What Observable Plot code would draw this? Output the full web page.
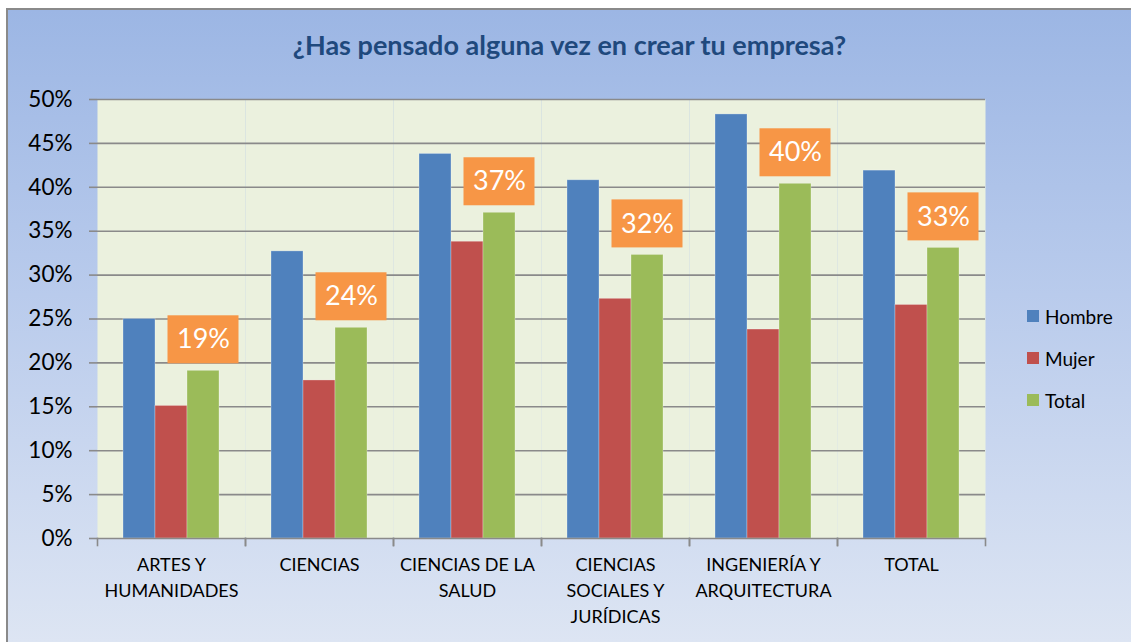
<!DOCTYPE html>
<html>
<head>
<meta charset="utf-8">
<script src="https://cdn.jsdelivr.net/npm/d3@7"></script>
<script src="https://cdn.jsdelivr.net/npm/@observablehq/plot@0.6"></script>
<style>
  html, body { margin: 0; padding: 0; background: #fff; }
  body { width: 1131px; height: 642px; position: relative; overflow: hidden; font-family: Lato, "Open Sans", sans-serif; }
  #chart {
    position: absolute; left: 6px; top: 8px; width: 1125px; height: 634px;
    box-sizing: border-box;
    border-left: 2px solid #8a8a8a; border-top: 2px solid #8a8a8a;
    background: linear-gradient(to bottom, #9cb6e4 0%, #b9cbec 45%, #dde5f3 100%);
  }
  #title {
    height: 60px; box-sizing: border-box; padding-top: 8px; line-height: 54px;
    text-align: center; font-weight: bold; font-size: 27px; color: #1f497d;
  }
  #legend { position: absolute; left: 1019px; top: 285px; font-size: 19px; color: #000; }
  #legend .item { display: flex; align-items: center; height: 42px; }
  #legend .sw { width: 12px; height: 12px; margin-right: 6px; }
</style>
</head>
<body>
<div id="chart">
  <div id="title">¿Has pensado alguna vez en crear tu empresa?</div>
  <div id="plot"></div>
  <div id="legend"></div>
</div>
<script>
const categories = ["ARTES Y HUMANIDADES", "CIENCIAS", "CIENCIAS DE LA SALUD", "CIENCIAS SOCIALES Y JURÍDICAS", "INGENIERÍA Y ARQUITECTURA", "TOTAL"];
const categoryLabels = ["ARTES Y\nHUMANIDADES", "CIENCIAS", "CIENCIAS DE LA\nSALUD", "CIENCIAS\nSOCIALES Y\nJURÍDICAS", "INGENIERÍA Y\nARQUITECTURA", "TOTAL"];
const series = ["Hombre", "Mujer", "Total"];
const seriesColors = ["#4f81bd", "#c0504d", "#9bbb59"];
const hombre = [0.250, 0.327, 0.438, 0.408, 0.483, 0.419];
const mujer  = [0.151, 0.180, 0.338, 0.273, 0.238, 0.266];
const total  = [0.191, 0.240, 0.371, 0.323, 0.404, 0.331];
const yTicks = [0, 0.05, 0.10, 0.15, 0.20, 0.25, 0.30, 0.35, 0.40, 0.45, 0.50];

const data = [];
categories.forEach((c, i) => {
  data.push({cat: c, s: "Hombre", v: hombre[i]});
  data.push({cat: c, s: "Mujer", v: mujer[i]});
  data.push({cat: c, s: "Total", v: total[i]});
});
const totals = data.filter(d => d.s === "Total");
const labelOf = new Map(categories.map((c, i) => [c, categoryLabels[i]]));

const W = 1123, H = 572, mT = 29, mB = 104, mL = 88, mR = 145;
const innerH = H - mT - mB;
const grid = "#8a8a8a";

const chart = Plot.plot({
  width: W, height: H,
  marginTop: mT, marginBottom: mB, marginLeft: mL, marginRight: mR,
  style: {background: "none", fontFamily: "Lato, 'Open Sans', sans-serif", color: "#000", overflow: "visible"},
  fx: {domain: categories, padding: 0, label: null},
  x: {domain: series, paddingInner: 0, paddingOuter: 0.75, axis: null},
  y: {domain: [0, 0.5], label: null},
  color: {domain: series, range: seriesColors},
  marks: [
    Plot.frame({fill: "#ebf1de"}),
    Plot.ruleY(yTicks.slice(1), {stroke: grid, strokeWidth: 1.6}),
    Plot.barY(data, {fx: "cat", x: "s", y: "v", fill: "s", stroke: "#ffffff", strokeOpacity: 0.35, strokeWidth: 0.8}),
    Plot.ruleY([0], {stroke: grid, strokeWidth: 1.6}),
    Plot.frame({anchor: "left", insetTop: innerH, insetBottom: -7, stroke: grid, strokeWidth: 1.6}),
    Plot.frame({anchor: "right", insetTop: innerH, insetBottom: -7, stroke: grid, strokeWidth: 1.6}),
    Plot.barY(totals, {fx: "cat", x: "s", y1: "v", y2: "v", fill: "#f79646",
      insetTop: -55, insetBottom: 7, insetLeft: -19.5, insetRight: -19.5}),
    Plot.text(totals, {fx: "cat", x: "s", y: "v", dy: -31, text: d => Math.round(d.v * 100) + "%",
      fill: "#ffffff", fontSize: 27, textAnchor: "middle", lineAnchor: "middle"}),
    Plot.axisY({ticks: yTicks, tickFormat: d => Math.round(d * 100) + "%", tickSize: 8, tickPadding: 17,
      fontSize: 22.5, stroke: grid, strokeWidth: 1.6, line: true, label: null}),
    Plot.axisFx({anchor: "bottom", tickSize: 0, tickPadding: 14, fontSize: 18, lineHeight: 1.45,
      tickFormat: d => labelOf.get(d), label: null})
  ]
});
document.getElementById("plot").appendChild(chart);

const legend = document.getElementById("legend");
series.forEach((s, i) => {
  const item = document.createElement("div");
  item.className = "item";
  const sw = document.createElement("div");
  sw.className = "sw";
  sw.style.background = seriesColors[i];
  const t = document.createElement("span");
  t.textContent = s;
  item.appendChild(sw);
  item.appendChild(t);
  legend.appendChild(item);
});
</script>
</body>
</html>
